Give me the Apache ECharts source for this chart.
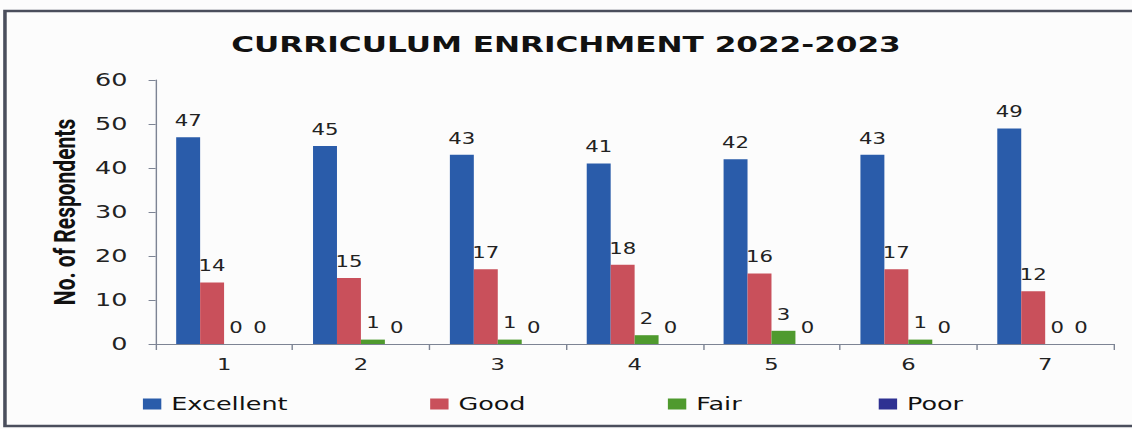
<!DOCTYPE html>
<html>
<head>
<meta charset="utf-8">
<script src="https://cdn.jsdelivr.net/npm/echarts@6/dist/echarts.min.js"></script>
<style>
  html, body { margin: 0; padding: 0; background: #fcfcfc; overflow: hidden; }
  /* the original picture is stretched sideways, so draw narrow and widen */
  #main { width: 800px; height: 429px; transform: scaleX(1.415); transform-origin: 0 0; }
</style>
</head>
<body>
<div id="main"></div>
<script>
// data
var categories = ['1', '2', '3', '4', '5', '6', '7'];
var seriesNames = ['Excellent', 'Good', 'Fair', 'Poor'];
var excellent = [47, 45, 43, 41, 42, 43, 49];
var good = [14, 15, 17, 18, 16, 17, 12];
var fair = [0, 1, 1, 2, 3, 1, 0];
var poor = [0, 0, 0, 0, 0, 0, 0];
var yTicks = [0, 10, 20, 30, 40, 50, 60];

var colors = ['#2a5caa', '#c9505b', '#4f9a2e', '#2e3192'];
var legendLeft = [96, 299, 467, 616];

var chart = echarts.init(document.getElementById('main'), null, { renderer: 'svg' });

var labelStyle = {
    show: true,
    position: 'top',
    distance: 9,
    fontFamily: 'DejaVu Sans',
    fontSize: 15,
    color: '#222'
};

function bar(name, data, color) {
    return {
        name: name,
        type: 'bar',
        data: data,
        barGap: 0,
        barCategoryGap: '30%',
        itemStyle: { color: color },
        label: labelStyle
    };
}

var legends = seriesNames.map(function (n, i) {
    return {
        data: [n],
        left: legendLeft[i],
        top: 390,
        itemWidth: 13,
        itemHeight: 11,
        icon: 'rect',
        textStyle: { fontFamily: 'DejaVu Sans', fontSize: 18, color: '#111', padding: [0, 0, 0, 2] }
    };
});

chart.setOption({
    backgroundColor: '#fcfcfc',
    graphic: [{
        type: 'rect',
        shape: { x: 3.5, y: 11, width: 810, height: 415 },
        style: { fill: 'none', stroke: '#4a4e5c', lineWidth: 2.5 },
        silent: true
    }],
    title: {
        text: 'CURRICULUM ENRICHMENT 2022-2023',
        left: 'center',
        top: 28,
        textStyle: { fontFamily: 'DejaVu Sans', fontWeight: 'bold', fontSize: 22, color: '#111' }
    },
    legend: legends,
    grid: { left: 110, right: 13, top: 80, bottom: 85 },
    xAxis: {
        type: 'category',
        data: categories,
        axisLine: { lineStyle: { color: '#7d8494' } },
        axisTick: { show: true, length: 6, lineStyle: { color: '#7d8494' } },
        axisLabel: { fontFamily: 'DejaVu Sans', fontSize: 16, color: '#222', margin: 13 }
    },
    yAxis: {
        type: 'value',
        min: yTicks[0],
        max: yTicks[yTicks.length - 1],
        interval: yTicks[1] - yTicks[0],
        name: 'No. of Respondents',
        nameLocation: 'middle',
        nameGap: 53,
        nameTextStyle: { fontFamily: 'Liberation Sans Narrow, Roboto', fontWeight: 'bold', fontSize: 21, color: '#111' },
        axisLine: { show: true, lineStyle: { color: '#7d8494' } },
        axisTick: { show: true, length: 5, lineStyle: { color: '#7d8494' } },
        splitLine: { show: false },
        axisLabel: { fontFamily: 'DejaVu Sans', fontSize: 18, color: '#222', margin: 20 }
    },
    series: [
        bar(seriesNames[0], excellent, colors[0]),
        bar(seriesNames[1], good, colors[1]),
        bar(seriesNames[2], fair, colors[2]),
        bar(seriesNames[3], poor, colors[3])
    ]
});
</script>
</body>
</html>
